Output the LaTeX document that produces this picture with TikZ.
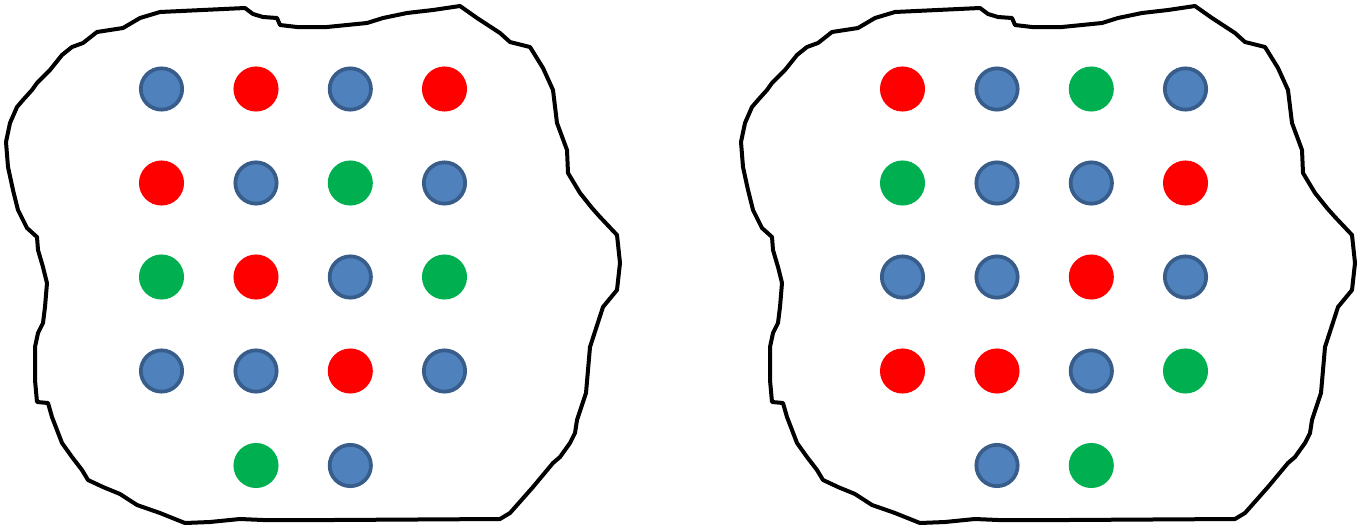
\documentclass[tikz,border=0pt]{standalone}
\begin{document}
\begin{tikzpicture}[x=0.75pt,y=-0.75pt,
  outline/.style={draw=black,line width=3pt,line join=round,line cap=round},
  dot/.style={circle,inner sep=0pt},
  bluedot/.style={dot,fill={rgb,255:red,79;green,129;blue,189},draw={rgb,255:red,56;green,93;blue,138},line width=2.8pt,minimum size=31pt},
  reddot/.style={dot,fill={rgb,255:red,255;green,0;blue,0},minimum size=33.8pt},
  greendot/.style={dot,fill={rgb,255:red,0;green,176;blue,80},minimum size=33.8pt}]
\useasboundingbox (0,0) rectangle (1364,529);
\def\blob{(160,12) (245,8) (253,14) (263,17) (277,18) (280,25) (297,27) (327,27) (367,23) (383,18) (407,13) (433,10) (460,6) (477,18) (500,33) (510,42) (530,47) (543,68) (553,90) (557,123) (567,150) (568,173) (580,193) (592,208) (600,217) (617,235) (620,263) (617,290) (603,307) (590,347) (586,393) (577,420) (575,433) (570,443) (560,457) (553,463) (533,487) (510,513) (500,519) (333,520) (263,520) (240,519) (210,522) (185,523) (160,513) (137,505) (120,494) (103,487) (88,480) (82,470) (72,457) (62,443) (57,430) (52,417) (48,403) (37,402) (35,380) (35,347) (38,333) (43,323) (45,307) (47,283) (43,267) (38,250) (37,237) (27,228) (18,210) (13,190) (8,167) (6,142) (10,123) (17,107) (23,100) (32,90) (37,83) (50,70) (62,55) (72,47) (83,43) (97,32) (123,28) (140,18)}
\draw[outline] plot coordinates {\blob} -- cycle;
\begin{scope}[xshift=735*0.75pt]
\draw[outline] plot coordinates {\blob} -- cycle;
\end{scope}
% left set
\node[bluedot]  (a11) at (161.5,89) {};
\node[reddot]   (a12) at (256,89) {};
\node[bluedot]  (a13) at (350.3,89) {};
\node[reddot]   (a14) at (444.5,89) {};
\node[reddot]   (a21) at (161.5,183) {};
\node[bluedot]  (a22) at (256,183) {};
\node[greendot] (a23) at (350.3,183) {};
\node[bluedot]  (a24) at (444.5,183) {};
\node[greendot] (a31) at (161.5,277) {};
\node[reddot]   (a32) at (256,277) {};
\node[bluedot]  (a33) at (350.3,277) {};
\node[greendot] (a34) at (444.5,277) {};
\node[bluedot]  (a41) at (161.5,371) {};
\node[bluedot]  (a42) at (256,371) {};
\node[reddot]   (a43) at (350.3,371) {};
\node[bluedot]  (a44) at (444.5,371) {};
\node[greendot] (a52) at (256,465.5) {};
\node[bluedot]  (a53) at (350.3,465.5) {};
% right set
\node[reddot]   (b11) at (902.5,89) {};
\node[bluedot]  (b12) at (997,89) {};
\node[greendot] (b13) at (1091.3,89) {};
\node[bluedot]  (b14) at (1185.5,89) {};
\node[greendot] (b21) at (902.5,183) {};
\node[bluedot]  (b22) at (997,183) {};
\node[bluedot]  (b23) at (1091.3,183) {};
\node[reddot]   (b24) at (1185.5,183) {};
\node[bluedot]  (b31) at (902.5,277) {};
\node[bluedot]  (b32) at (997,277) {};
\node[reddot]   (b33) at (1091.3,277) {};
\node[bluedot]  (b34) at (1185.5,277) {};
\node[reddot]   (b41) at (902.5,371) {};
\node[reddot]   (b42) at (997,371) {};
\node[bluedot]  (b43) at (1091.3,371) {};
\node[greendot] (b44) at (1185.5,371) {};
\node[bluedot]  (b52) at (997,465.5) {};
\node[greendot] (b53) at (1091.3,465.5) {};
\end{tikzpicture}
\end{document}
